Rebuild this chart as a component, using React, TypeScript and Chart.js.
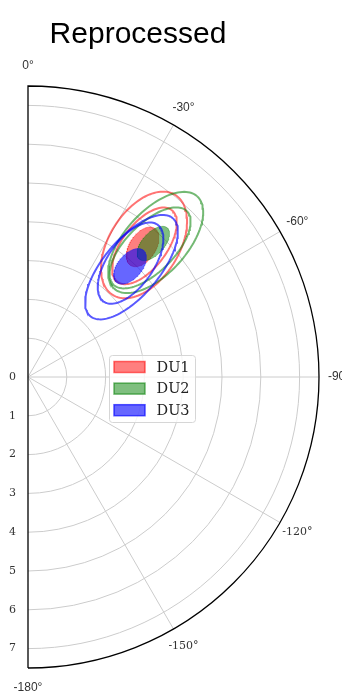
import React, { useEffect, useRef } from "react";
import { Chart, registerables } from "chart.js";

Chart.register(...registerables);

// ---------------- data ----------------
const TITLE = "Reprocessed";
const SERIES_LABELS = ["DU1", "DU2", "DU3"];
const RADIAL_TICKS = [0, 1, 2, 3, 4, 5, 6, 7];
const R_MAX = 7.5;
const ANGLE_TICKS = [0, -30, -60, -90, -120, -150, -180];

// each series: three ellipses [filled core, inner contour, outer contour]
// centre as polar (magnitude, angle in degrees), semi-axes in radial units, tilt in degrees
const DU1_R = [4.47, 4.52, 4.53];
const DU1_THETA = [-41.4, -41.6, -41.3];
const DU1_SEMI_MAJOR = [0.57, 1.16, 1.52];
const DU1_SEMI_MINOR = [0.335, 0.57, 0.9];
const DU1_TILT = [57, 53, 58];

const DU2_R = [4.72, 4.58, 4.78];
const DU2_THETA = [-43.2, -43.4, -43.5];
const DU2_SEMI_MAJOR = [0.54, 1.34, 1.6];
const DU2_SEMI_MINOR = [0.28, 0.62, 0.8];
const DU2_TILT = [48, 45, 48];

const DU3_R = [3.88, 3.95, 3.89];
const DU3_THETA = [-42.7, -42.0, -43.3];
const DU3_SEMI_MAJOR = [0.54, 1.21, 1.65];
const DU3_SEMI_MINOR = [0.31, 0.59, 0.72];
const DU3_TILT = [50, 55, 50];

const SERIES_DATA = [
  { r: DU1_R, theta: DU1_THETA, a: DU1_SEMI_MAJOR, b: DU1_SEMI_MINOR, tilt: DU1_TILT },
  { r: DU2_R, theta: DU2_THETA, a: DU2_SEMI_MAJOR, b: DU2_SEMI_MINOR, tilt: DU2_TILT },
  { r: DU3_R, theta: DU3_THETA, a: DU3_SEMI_MAJOR, b: DU3_SEMI_MINOR, tilt: DU3_TILT },
];

// ---------------- styles ----------------
const RGB = ["255,0,0", "0,128,0", "0,0,255"];
const FILL_ALPHA = [0.5, 0.5, 0.6];
const LINE_ALPHA = [0.55, 0.55, 0.65];

function ellipsePoints(r: number, thetaDeg: number, a: number, b: number, tiltDeg: number) {
  const th = (-thetaDeg * Math.PI) / 180;
  const cx = r * Math.sin(th);
  const cy = r * Math.cos(th);
  const phi = (tiltDeg * Math.PI) / 180;
  const pts: { x: number; y: number }[] = [];
  const N = 120;
  for (let i = 0; i <= N; i++) {
    const t = (i / N) * Math.PI * 2;
    const ex = a * Math.cos(t);
    const ey = b * Math.sin(t);
    pts.push({
      x: cx + ex * Math.cos(phi) - ey * Math.sin(phi),
      y: cy + ex * Math.sin(phi) + ey * Math.cos(phi),
    });
  }
  return pts;
}

const polarPlugin = {
  id: "polarFrame",
  beforeDatasetsDraw(chart: any) {
    const { ctx } = chart;
    const xs = chart.scales.x;
    const ys = chart.scales.y;
    const cx = xs.getPixelForValue(0);
    const cy = ys.getPixelForValue(0);
    const k = xs.getPixelForValue(1) - cx;
    ctx.save();
    ctx.strokeStyle = "#cccccc";
    ctx.lineWidth = 1;
    for (const r of RADIAL_TICKS) {
      if (r <= 0) continue;
      ctx.beginPath();
      ctx.arc(cx, cy, r * k, -Math.PI / 2, Math.PI / 2);
      ctx.stroke();
    }
    for (const a of ANGLE_TICKS) {
      if (a === 0 || a === -180) continue;
      const t = (-a * Math.PI) / 180;
      ctx.beginPath();
      ctx.moveTo(cx, cy);
      ctx.lineTo(cx + R_MAX * k * Math.sin(t), cy - R_MAX * k * Math.cos(t));
      ctx.stroke();
    }
    ctx.restore();
  },
  afterDatasetsDraw(chart: any) {
    const { ctx } = chart;
    const xs = chart.scales.x;
    const ys = chart.scales.y;
    const cx = xs.getPixelForValue(0);
    const cy = ys.getPixelForValue(0);
    const k = xs.getPixelForValue(1) - cx;
    ctx.save();
    // frame
    ctx.strokeStyle = "#000";
    ctx.lineWidth = 1.3;
    ctx.beginPath();
    ctx.moveTo(cx, cy + R_MAX * k);
    ctx.lineTo(cx, cy - R_MAX * k);
    ctx.arc(cx, cy, R_MAX * k, -Math.PI / 2, Math.PI / 2);
    ctx.stroke();

    // angle labels
    const labR = R_MAX * k + 20;
    ctx.textAlign = "center";
    ctx.textBaseline = "middle";
    ctx.fillStyle = "#333";
    for (const a of ANGLE_TICKS) {
      const t = (-a * Math.PI) / 180;
      const serif = a === -120 || a === -150;
      ctx.font = serif ? "11px 'DejaVu Serif'" : "12px 'Liberation Sans', Arial, sans-serif";
      ctx.fillText(`${a}°`, cx + labR * Math.sin(t), cy - labR * Math.cos(t));
    }
    // radial labels (along the -180° side)
    ctx.font = "11px 'DejaVu Serif'";
    for (const r of RADIAL_TICKS) {
      ctx.fillText(String(r), cx - 15.5, cy + r * k);
    }

    // legend
    const lx = 109.5, ly = 355.5, lw = 86, lh = 67;
    ctx.beginPath();
    (ctx as any).roundRect(lx, ly, lw, lh, 3);
    ctx.fillStyle = "rgba(255,255,255,0.8)";
    ctx.fill();
    ctx.strokeStyle = "#d6d6d6";
    ctx.lineWidth = 1;
    ctx.stroke();
    ctx.textAlign = "left";
    ctx.font = "14.5px 'DejaVu Serif'";
    SERIES_LABELS.forEach((lab, i) => {
      const yy = 367 + i * 21.6;
      ctx.fillStyle = `rgba(${RGB[i]},${FILL_ALPHA[i]})`;
      ctx.fillRect(114, yy - 5.5, 31, 11);
      ctx.strokeStyle = `rgba(${RGB[i]},${LINE_ALPHA[i]})`;
      ctx.lineWidth = 1.5;
      ctx.strokeRect(114, yy - 5.5, 31, 11);
      ctx.fillStyle = "#222";
      ctx.fillText(lab, 156.5, yy + 1);
    });

    // title
    ctx.fillStyle = "#000";
    ctx.textAlign = "center";
    ctx.textBaseline = "alphabetic";
    ctx.font = "30px 'Liberation Sans', Arial, sans-serif";
    ctx.fillText(TITLE, 138, 43);
    ctx.restore();
  },
};

export default function App() {
  const ref = useRef<HTMLCanvasElement | null>(null);
  useEffect(() => {
    document.body.style.margin = "0";
    const canvas = ref.current;
    if (!canvas) return;
    const datasets: any[] = [];
    SERIES_DATA.forEach((s, si) => {
      for (let lvl = 0; lvl < 3; lvl++) {
        const filled = lvl === 0;
        datasets.push({
          label: `${SERIES_LABELS[si]}-${lvl}`,
          data: ellipsePoints(s.r[lvl], s.theta[lvl], s.a[lvl], s.b[lvl], s.tilt[lvl]),
          borderColor: filled ? `rgba(${RGB[si]},0.35)` : `rgba(${RGB[si]},${LINE_ALPHA[si]})`,
          backgroundColor: `rgba(${RGB[si]},${FILL_ALPHA[si]})`,
          borderWidth: filled ? 1 : 2,
          fill: filled ? "shape" : false,
          pointRadius: 0,
          tension: 0,
          order: 10 - si * 3 - lvl,
        });
      }
    });
    const chart = new Chart(canvas, {
      type: "line",
      data: { datasets },
      options: {
        animation: false,
        responsive: false,
        devicePixelRatio: 1,
        layout: { padding: { left: 28, right: 23, top: 86, bottom: 27 } },
        scales: {
          x: { type: "linear", min: 0, max: R_MAX, display: false },
          y: { type: "linear", min: -R_MAX, max: R_MAX, display: false },
        },
        plugins: {
          legend: { display: false },
          title: { display: false },
          tooltip: { enabled: false },
        },
      },
      plugins: [polarPlugin],
    } as any);
    return () => chart.destroy();
  }, []);
  return <canvas ref={ref} width={342} height={695} style={{ display: "block" }} />;
}
